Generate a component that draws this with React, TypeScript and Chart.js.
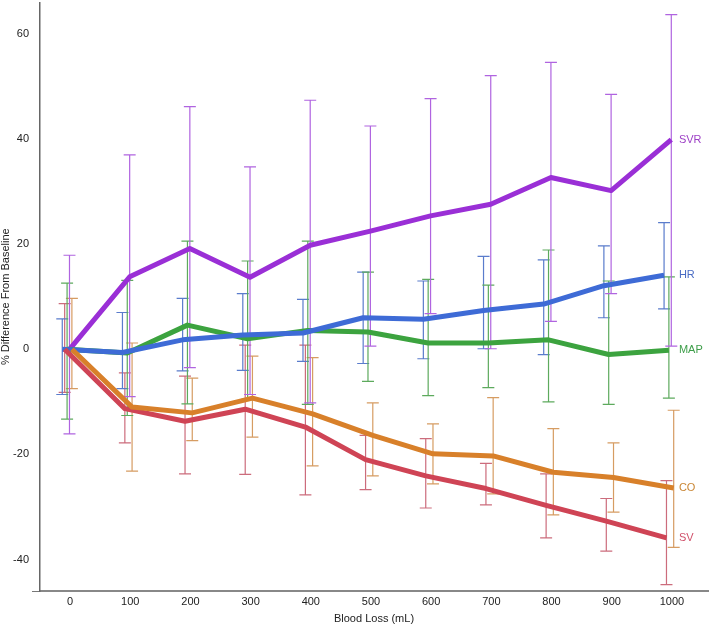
import { useEffect, useRef } from "react";
import { Chart, registerables } from "chart.js";

Chart.register(...registerables);

const BLOOD_LOSS = [0, 100, 200, 300, 400, 500, 600, 700, 800, 900, 1000];
const Y_TICKS = [-40, -20, 0, 20, 40, 60];
const X_MIN = -50;
const X_MAX = 1060;
const Y_MIN = -46;
const Y_MAX = 66;

// mean % change, with upper / lower ends of the error bars
const SVR = [0, 13.8, 19.2, 13.7, 19.8, 22.5, 25.4, 27.6, 32.7, 30.2, 39.9];
const SVR_HI = [17.9, 37.0, 46.2, 34.7, 47.4, 42.5, 47.7, 52.1, 54.6, 48.5, 63.7];
const SVR_LO = [-16.1, -9.0, -3.5, -8.6, -10.2, 0.6, 6.8, 0.1, 5.3, 10.6, 0.6];

const HR = [0, -0.6, 1.8, 2.7, 3.1, 6.0, 5.7, 7.4, 8.6, 12.1, 14.1];
const HR_HI = [5.8, 7.0, 9.7, 10.6, 9.5, 14.7, 13.0, 17.7, 17.0, 19.7, 24.1];
const HR_LO = [-8.6, -7.5, -4.1, -4.0, -2.3, -2.7, -1.8, 0.1, -1.0, 6.0, 7.7];

const MAP = [0, -0.7, 4.6, 2.0, 3.6, 3.3, 1.2, 1.2, 1.8, -1.0, -0.2];
const MAP_HI = [12.6, 13.1, 20.6, 16.8, 20.6, 14.7, 13.3, 12.2, 18.9, 13.0, 13.8];
const MAP_LO = [-13.3, -12.6, -10.4, -9.5, -10.5, -6.1, -8.8, -7.3, -10.0, -10.5, -9.3];

const CO = [0, -11.0, -12.1, -9.3, -12.3, -16.4, -19.9, -20.3, -23.4, -24.4, -26.4];
const CO_HI = [9.7, 1.2, -5.5, -1.3, -1.6, -10.2, -14.2, -9.2, -15.1, -17.8, -11.6];
const CO_LO = [-7.5, -23.2, -17.4, -16.7, -22.2, -24.1, -25.6, -27.5, -31.5, -31.0, -37.7];

const SV = [0, -11.3, -13.7, -11.4, -14.8, -21.0, -24.1, -26.5, -29.7, -32.7, -35.9];
const SV_HI = [8.7, -4.5, -5.1, 0.8, 0.8, -16.4, -17.0, -21.7, -23.7, -28.4, -25.0];
const SV_LO = [-8.2, -17.8, -23.7, -23.8, -27.7, -26.7, -30.2, -29.6, -35.9, -38.4, -44.8];

// each series is nudged sideways a little so the bars don't sit on each other
const X_JITTER = { HR: -13, SV: -9, MAP: -5, SVR: -1, CO: 3 };

const FONT = "'Liberation Sans', Arial, Helvetica, sans-serif";

function series(label: string, values: number[], hi: number[], lo: number[], jitter: number, color: string, errColor: string) {
  return {
    label,
    data: BLOOD_LOSS.map((x, i) => ({ x: x + jitter, y: values[i] })),
    errHi: hi,
    errLo: lo,
    errColor,
    borderColor: color,
    backgroundColor: color,
    borderWidth: 5,
    borderJoinStyle: "round" as const,
    pointRadius: 0,
    tension: 0,
  };
}

const errorBars = {
  id: "errorBars",
  beforeDatasetsDraw(chart: any) {
    const { ctx } = chart;
    const yScale = chart.scales.y;
    chart.data.datasets.forEach((ds: any, i: number) => {
      const meta = chart.getDatasetMeta(i);
      ctx.save();
      ctx.strokeStyle = ds.errColor;
      ctx.lineWidth = 1.2;
      meta.data.forEach((pt: any, j: number) => {
        const yHi = yScale.getPixelForValue(ds.errHi[j]);
        const yLo = yScale.getPixelForValue(ds.errLo[j]);
        ctx.beginPath();
        ctx.moveTo(pt.x, yHi);
        ctx.lineTo(pt.x, yLo);
        ctx.moveTo(pt.x - 6, yHi);
        ctx.lineTo(pt.x + 6, yHi);
        ctx.moveTo(pt.x - 6, yLo);
        ctx.lineTo(pt.x + 6, yLo);
        ctx.stroke();
      });
      ctx.restore();
    });
  },
};

const endLabels = {
  id: "endLabels",
  afterDatasetsDraw(chart: any) {
    const { ctx } = chart;
    const x = chart.scales.x.getPixelForValue(BLOOD_LOSS[BLOOD_LOSS.length - 1]) + 7;
    chart.data.datasets.forEach((ds: any, i: number) => {
      const meta = chart.getDatasetMeta(i);
      const last = meta.data[meta.data.length - 1];
      ctx.save();
      ctx.font = `11px ${FONT}`;
      ctx.fillStyle = ds.labelColor;
      ctx.textBaseline = "middle";
      ctx.fillText(ds.label, x, last.y);
      ctx.restore();
    });
  },
};

export default function App() {
  const canvasRef = useRef<HTMLCanvasElement>(null);
  const chartRef = useRef<Chart | null>(null);

  useEffect(() => {
    if (!canvasRef.current) return;
    if (chartRef.current) chartRef.current.destroy();

    const datasets = [
      { ...series("CO", CO, CO_HI, CO_LO, X_JITTER.CO, "#d8802a", "#d69c62"), labelColor: "#c98634" },
      { ...series("SV", SV, SV_HI, SV_LO, X_JITTER.SV, "#cf4455", "#cc6c7c"), labelColor: "#d0506a" },
      { ...series("HR", HR, HR_HI, HR_LO, X_JITTER.HR, "#3e6bd6", "#5a7ccc"), labelColor: "#4a6cc4" },
      { ...series("MAP", MAP, MAP_HI, MAP_LO, X_JITTER.MAP, "#3ca33f", "#5daa5d"), labelColor: "#3e9e4a" },
      { ...series("SVR", SVR, SVR_HI, SVR_LO, X_JITTER.SVR, "#9a2fd6", "#b064e0"), labelColor: "#9d3fc6" },
    ];

    chartRef.current = new Chart(canvasRef.current, {
      type: "line",
      data: { datasets } as any,
      options: {
        animation: false,
        responsive: false,
        layout: { padding: { top: 2.5, right: 1, left: 0, bottom: 0 } },
        plugins: {
          legend: { display: false },
          tooltip: { enabled: false },
        },
        scales: {
          x: {
            type: "linear",
            min: X_MIN,
            max: X_MAX,
            afterBuildTicks: (s: any) => {
              s.ticks = BLOOD_LOSS.map((v) => ({ value: v }));
            },
            afterFit: (s: any) => {
              s.height = 33;
              s.paddingLeft = 0;
              s.paddingRight = 0;
            },
            grid: { display: true, drawOnChartArea: false, drawTicks: false },
            border: { display: true, color: "#888", width: 2 },
            ticks: {
              padding: 4,
              maxRotation: 0,
              color: "#222",
              font: { family: FONT, size: 11 },
              callback: (v: any) => String(v),
            },
            title: {
              display: true,
              text: "Blood Loss (mL)",
              color: "#222",
              padding: { top: 0, bottom: 0 },
              font: { family: FONT, size: 11, lineHeight: 1 },
            },
          },
          y: {
            type: "linear",
            min: Y_MIN,
            max: Y_MAX,
            afterBuildTicks: (s: any) => {
              s.ticks = [Y_MIN, ...Y_TICKS].map((v) => ({ value: v }));
            },
            afterFit: (s: any) => {
              s.width = 40;
              s.paddingTop = 0;
              s.paddingBottom = 0;
            },
            grid: {
              display: true,
              drawOnChartArea: false,
              drawTicks: true,
              tickLength: 8,
              color: (c: any) => (c.tick && c.tick.value === Y_MIN ? "#777" : "rgba(0,0,0,0)"),
            },
            border: { display: true, color: "#666", width: 1.5 },
            ticks: {
              padding: 3,
              color: "#222",
              font: { family: FONT, size: 11 },
              callback: (v: any) => (v === Y_MIN ? "" : String(v)),
            },
            title: {
              display: true,
              text: "% Difference From Baseline",
              color: "#222",
              padding: { top: 0, bottom: 0 },
              font: { family: FONT, size: 11, lineHeight: 1 },
            },
          },
        },
      },
      plugins: [errorBars, endLabels],
    });

    return () => {
      if (chartRef.current) {
        chartRef.current.destroy();
        chartRef.current = null;
      }
    };
  }, []);

  return (
    <div style={{ width: 709, height: 624, background: "#fff" }}>
      <style>{"body{margin:0;background:#fff}"}</style>
      <canvas ref={canvasRef} width={709} height={624} />
    </div>
  );
}
